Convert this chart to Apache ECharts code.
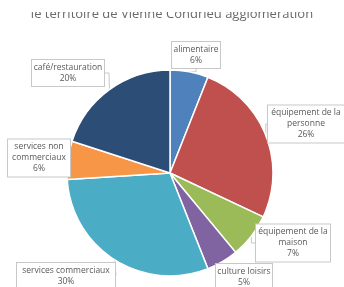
<!DOCTYPE html>
<html><head><meta charset="utf-8">
<script src="https://cdn.jsdelivr.net/npm/echarts@6/dist/echarts.min.js"></script>
<style>html,body{margin:0;padding:0;background:#fff}#c{width:344px;height:287px}</style>
</head><body><div id="c"></div>
<script>
const titleText = "le territoire de Vienne Condrieu agglomération";
const categories = ["alimentaire", "équipement de la\npersonne", "équipement de la\nmaison", "culture loisirs", "services commerciaux", "services non\ncommerciaux", "café/restauration"];
const values = [6, 26, 7, 5, 30, 6, 20];
const colors = ["#4F81BD", "#C0504D", "#9BBB59", "#8064A2", "#4BACC6", "#F79646", "#2C4D75"];
const labelPos = [[196, 55], [306, 124], [293, 243], [244, 277], [66, 276], [39, 158], [68, 73]];
const labelWidth = [40, 68, 66, 48, 90, 54, 64];

const chart = echarts.init(document.getElementById('c'), null, {renderer: 'canvas'});
chart.setOption({
  animation: false,
  title: {
    text: titleText, left: 'center', top: 3,
    textStyle: {fontFamily: 'Open Sans', fontSize: 13, fontWeight: 'normal', color: '#6a6a6a'}
  },
  graphic: [{type: 'rect', left: 0, top: 0, shape: {width: 344, height: 12}, style: {fill: '#fff'}, z: 100}],
  series: [{
    type: 'pie',
    center: [170, 173],
    radius: 103,
    startAngle: 90,
    clockwise: true,
    data: categories.map((c, i) => ({name: c, value: values[i], itemStyle: {color: colors[i]},
      label: {width: labelWidth[i]}})),
    itemStyle: {borderColor: '#fff', borderWidth: 1.5},
    label: {
      show: true,
      formatter: p => p.name + '\n' + p.value + '%',
      fontFamily: 'Open Sans', fontSize: 8.5, color: '#595959', lineHeight: 11,
      backgroundColor: '#fff', borderColor: '#c8c8c8', borderWidth: 1,
      padding: [2, 4], align: 'center', overflow: 'none'
    },
    edgeDistance: 0,
    labelLine: {show: true, length: 4, length2: 4, lineStyle: {color: '#c8c8c8', width: 1}},
    labelLayout: function (p) {
      const pos = labelPos[p.dataIndex];
      return {x: pos[0], y: pos[1], align: 'center', verticalAlign: 'middle'};
    }
  }]
});
</script></body></html>
